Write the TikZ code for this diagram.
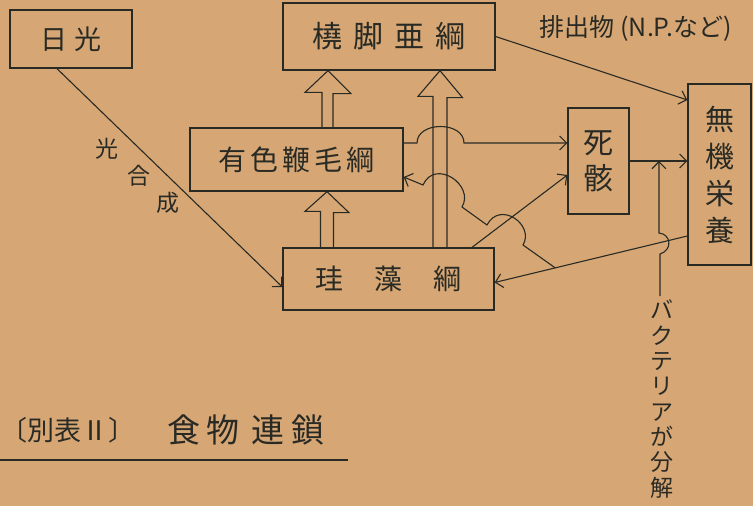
\documentclass[tikz,border=0pt]{standalone}
\usepackage{fontspec}
\setmainfont{Noto Sans CJK JP}
\usetikzlibrary{arrows.meta,calc}
\definecolor{paper}{RGB}{214,167,117}
\definecolor{ink}{RGB}{42,42,36}
\newcommand\jfs[2]{\fontsize{#1}{#2}\selectfont}
\begin{document}
\begin{tikzpicture}[x=1pt,y=-1pt,
  box/.style={draw=ink,line width=1.3pt,inner sep=0pt,text=ink,align=center},
  conn/.style={draw=ink,line width=1.1pt},
  arr/.style={conn,-{Straight Barb[length=7pt,width=14pt,line width=1.1pt]}},
  hollow/.style={draw=ink,line width=1.1pt,line join=miter},
  lbl/.style={text=ink,inner sep=0pt,align=center}]
\fill[paper] (0,0) rectangle (753,506);
\useasboundingbox (0,0) rectangle (753,506);

% boxes
\node[box,minimum width=122pt,minimum height=58pt,font=\jfs{27}{27}] (nikko) at (71,39) {日\hspace{8pt}光};
\node[box,minimum width=212pt,minimum height=67pt,font=\jfs{30}{30}] (kyoshaku) at (389,36.5) {橈\hspace{11pt}脚\hspace{11pt}亜\hspace{11pt}綱};
\node[box,minimum width=213pt,minimum height=63pt,font=\jfs{28}{28}] (yushoku) at (296.5,159.5) {有\hspace{4pt}色\hspace{4pt}鞭\hspace{4pt}毛\hspace{4pt}綱};
\node[box,minimum width=211pt,minimum height=62pt,font=\jfs{28}{28}] (keiso) at (388.5,279) {珪\hspace{31pt}藻\hspace{31pt}綱};
\node[box,minimum width=61pt,minimum height=106pt,font=\jfs{30}{36}] (shigai) at (598.5,161) {死\\骸};
\node[box,minimum width=63pt,minimum height=181pt,font=\jfs{29}{37}] (muki) at (719.5,174.5) {無\\機\\栄\\養};

% hollow arrows
\draw[hollow] ([xshift=-68pt]keiso.north) -- ++(0,-36) -- ++(-15.5,0) -- ([xshift=30.5pt]yushoku.south) -- ++(22,21) -- ++(-15.5,0) -- ([xshift=-55pt]keiso.north);
\draw[hollow] ([xshift=25.5pt]yushoku.north) -- ++(0,-35) -- ++(-17,0) -- ([xshift=-61pt]kyoshaku.south) -- ++(23,23) -- ++(-18,0) -- ([xshift=36.5pt]yushoku.north);
\draw[hollow] ([xshift=44.5pt]keiso.north) -- ++(0,-151) -- ++(-15,0) -- ([xshift=51pt]kyoshaku.south) -- ++(22.5,27) -- ++(-15.5,0) -- ([xshift=58.5pt]keiso.north);

% connectors
\draw[arr] ([xshift=-14pt]nikko.south) -- ([yshift=-8pt]keiso.west);
\draw[arr] (kyoshaku.east) -- ([yshift=74.5pt]muki.west);
\draw[arr] ([yshift=16.5pt]yushoku.east) -- (417,143) .. controls (417,121) and (464,121) .. (464,143) -- ([yshift=18pt]shigai.west);
\draw[arr] ([xshift=83.5pt]keiso.north) -- ([yshift=-14pt]shigai.west);
\coordinate (mk) at ([yshift=-61.5pt]muki.west);
\coordinate (ks) at ([yshift=-3.5pt]keiso.east);
\draw[arr] (mk) -- (ks);
\coordinate (br) at ($(mk)!0.6856!(ks)$);
\draw[arr] (br) -- (523,245) .. controls (535,225) and (500,200) .. (487,225) -- (462,207) .. controls (475,185) and (435,158) .. (423,185) -- ([yshift=-17.5pt]yushoku.east);
\coordinate (se) at (muki.west |- shigai.east);
\draw[arr] (shigai.east) -- (se);
\coordinate (bt) at ($(shigai.east)!0.508!(se)$);
\coordinate (bact) at (660,296);
\draw[arr] (bact) -- (660,254) .. controls (673,250) and (671,234) .. (659,233) -- (bt);

% labels
\node[lbl,font=\jfs{23}{23}] (k1) at (107,149) {光};
\node[lbl,font=\jfs{23}{23}] (k2) at (139,176) {合};
\node[lbl,font=\jfs{23}{23}] (k3) at (168,203) {成};
\node[lbl,font=\jfs{25}{25}] (hai) at (636,28) {排出物 (N.P.など)};
\node[lbl,font=\jfs{23}{25.3}] (bac) at (662,399) {バ\\ク\\テ\\リ\\ア\\が\\分\\解};
\node[lbl,font=\jfs{27}{27},anchor=west] (t1) at (0,430) {〔別表Ⅱ〕};
\node[lbl,font=\jfs{33}{33}] (t2) at (246,430) {食\hspace{7pt}物\hspace{12pt}連\hspace{7pt}鎖};
\draw[ink,line width=1.3pt] (0,460) -- (348,460);
\end{tikzpicture}
\end{document}
